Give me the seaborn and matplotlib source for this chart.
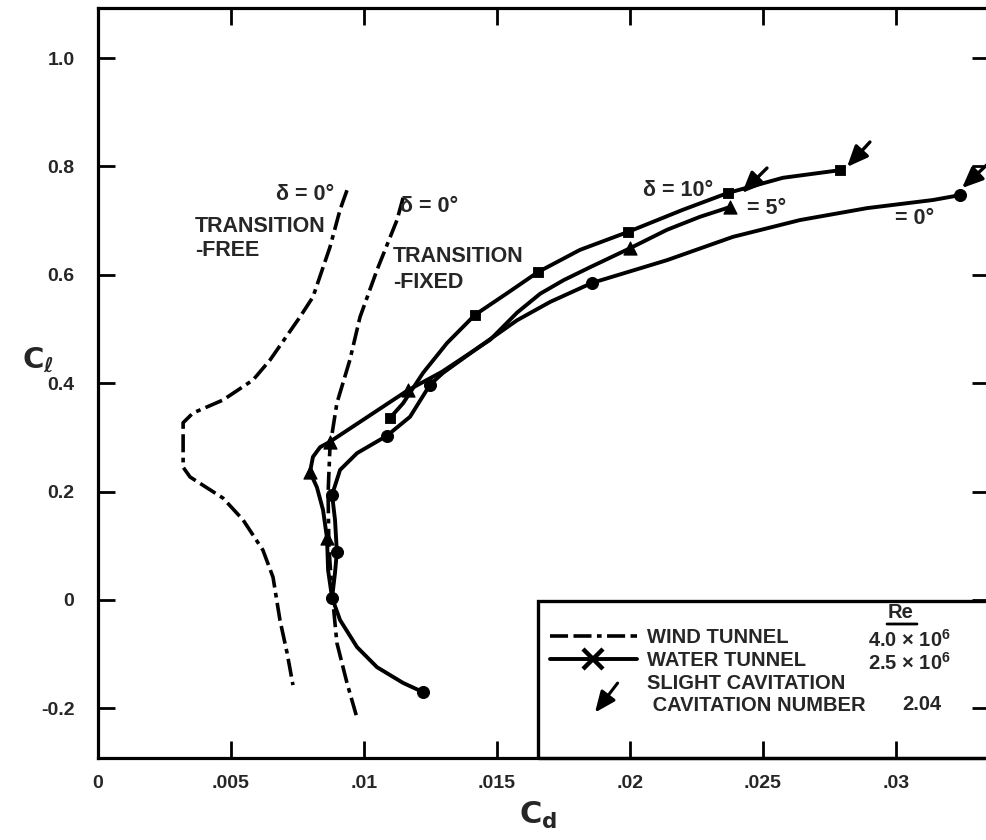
import numpy as np
import pandas as pd
import matplotlib
matplotlib.use("Agg")
import matplotlib.pyplot as plt
import seaborn as sns
from matplotlib.lines import Line2D
from matplotlib.patches import FancyArrowPatch, Rectangle
from matplotlib.legend_handler import HandlerPatch

# ===================== data =====================
# wind tunnel, delta = 0, transition free
free_cd = [.00936, .00910, .00872, .00808, .00759, .00647, .00583, .00470, .00357, .00320,
           .00320, .00346, .00470, .00545, .00620, .00658, .00684, .00711, .00733]
free_cl = [.756, .720, .651, .559, .522, .443, .406, .369, .345, .327,
           .245, .227, .188, .148, .092, .042, -.037, -.098, -.157]

# wind tunnel, delta = 0, transition fixed
fixed_cd = [.01147, .01124, .01049, .00985, .00947, .00898, .00872, .00865, .00868,
            .00880, .00898, .00936, .00974]
fixed_cl = [.742, .701, .609, .522, .443, .363, .282, .197, .098, .013, -.079, -.153, -.218]

# water tunnel faired curves
w0_cd = [.01222, .01147, .01049, .00974, .00910, .00880, .00891, .00898, .00891, .00880,
         .00910, .00974, .01086, .01173, .01248, .01297, .01436, .01575, .01700, .01857,
         .02139, .02387, .02639, .02891, .03139, .03241]
w0_cl = [-.170, -.153, -.124, -.087, -.037, .004, .050, .089, .148, .194,
         .240, .271, .303, .338, .397, .419, .468, .516, .550, .585,
         .627, .670, .701, .723, .738, .747]

w5_cd = [.00880, .00865, .00861, .00846, .00823, .00797, .00808, .00835, .00872, .01165,
         .01293, .01474, .01575, .01662, .01750, .01850, .02000, .02139, .02263, .02376]
w5_cl = [.004, .055, .114, .166, .208, .236, .264, .282, .292, .387,
         .421, .480, .530, .565, .590, .614, .649, .683, .707, .725]

w10_cd = [.01098, .01147, .01222, .01312, .01417, .01538, .01654, .01812, .01992,
          .02199, .02368, .02575, .02789]
w10_cl = [.336, .363, .419, .474, .526, .566, .605, .646, .679, .720, .751, .779, .793]

# measured points (water tunnel)
p0_cd = [.01222, .00880, .00898, .00880, .01086, .01248, .01857, .03241]
p0_cl = [-.170, .004, .089, .194, .303, .397, .585, .747]
p5_cd = [.00861, .00797, .00872, .01165, .02000, .02376]
p5_cl = [.114, .236, .292, .387, .649, .725]
p10_cd = [.01098, .01417, .01654, .01992, .02368, .02789]
p10_cl = [.336, .526, .605, .679, .751, .793]

# slight cavitation arrows (head / tail)
cav_cd = [.02816, .02421, .03248]
cav_cl = [.799, .751, .760]
cav_tail_cd = [.02902, .02515, .03342]
cav_tail_cl = [.845, .797, .803]

x_ticks = [0, .005, .01, .015, .02, .025, .03]
x_labels = ["0", ".005", ".01", ".015", ".02", ".025", ".03"]
y_ticks = [-0.2, 0, 0.2, 0.4, 0.6, 0.8, 1.0]
y_labels = ["-0.2", "0", "0.2", "0.4", "0.6", "0.8", "1.0"]

# ===================== style =====================
sns.set_style("ticks")
plt.rcParams["font.family"] = ["Liberation Sans", "DejaVu Sans"]
plt.rcParams["font.weight"] = "bold"
plt.rcParams["mathtext.fontset"] = "dejavusans"

fig = plt.figure(figsize=(9.87, 8.4), dpi=100)
ax = fig.add_axes([98 / 987, 1 - 758 / 840, 891 / 987, 750 / 840])

DASH = (0, (5, 1.5, 5, 1.5, 1.3, 1.5))
LW = 2.8

sns.lineplot(x=free_cd, y=free_cl, sort=False, estimator=None, color="k", lw=2.6,
             linestyle=DASH, ax=ax)
sns.lineplot(x=fixed_cd, y=fixed_cl, sort=False, estimator=None, color="k", lw=2.6,
             linestyle=DASH, ax=ax)
for cd, cl in [(w0_cd, w0_cl), (w5_cd, w5_cl), (w10_cd, w10_cl)]:
    sns.lineplot(x=cd, y=cl, sort=False, estimator=None, color="k", lw=LW, ax=ax)

sns.scatterplot(x=p0_cd, y=p0_cl, marker="o", s=75, color="k", edgecolor="k", zorder=5, ax=ax)
sns.scatterplot(x=p5_cd, y=p5_cl, marker="^", s=90, color="k", edgecolor="k", zorder=5, ax=ax)
sns.scatterplot(x=p10_cd, y=p10_cl, marker="s", s=60, color="k", edgecolor="k", zorder=5, ax=ax)

for hx, hy, tx, ty in zip(cav_cd, cav_cl, cav_tail_cd, cav_tail_cl):
    ax.annotate("", xy=(hx, hy), xytext=(tx, ty), annotation_clip=False,
                arrowprops=dict(arrowstyle="-|>,head_length=0.7,head_width=0.3",
                                color="k", lw=2.4, shrinkA=0, shrinkB=0, mutation_scale=18))

# ===================== axes =====================
ax.set_xlim(0, 891 / 26600)
ax.set_ylim((600 - 758) / 542, (600 - 8) / 542)
ax.set_xticks(x_ticks)
ax.set_xticklabels(x_labels)
ax.set_yticks(y_ticks)
ax.set_yticklabels(y_labels)
ax.tick_params(direction="in", length=12, width=2, top=True, right=True,
               labelsize=14, color="k")
ax.tick_params(axis="x", pad=12)
ax.tick_params(axis="y", pad=17)
for s in ax.spines.values():
    s.set_linewidth(2.3)
    s.set_color("k")

ax.set_xlabel(r"$\mathrm{C}_\mathrm{d}$", fontsize=22, fontweight="normal")
ax.xaxis.set_label_coords((538 - 98) / 891, (758 - 800) / 750)
ax.set_ylabel(r"$\mathrm{C}_\ell$", fontsize=21, fontweight="normal", rotation=0,
              va="center", ha="center")
ax.yaxis.set_label_coords((38 - 98) / 891, (758 - 360) / 750)

# ===================== annotations =====================
def fx(px):
    return (px - 98) / 891

def fy(py):
    return (758 - py) / 750

tk = dict(transform=ax.transAxes, fontsize=15.5, fontweight="bold", va="center")
ax.text(fx(276), fy(195), "δ = 0°", ha="left", **tk)
ax.text(fx(195), fy(226), "TRANSITION", ha="left", **tk)
ax.text(fx(195), fy(251), "-FREE", ha="left", **tk)
ax.text(fx(400), fy(206), "δ = 0°", ha="left", **tk)
ax.text(fx(393), fy(256), "TRANSITION", ha="left", **tk)
ax.text(fx(393), fy(283), "-FIXED", ha="left", **tk)
ax.text(fx(643), fy(190), "δ = 10°", ha="left", **tk)
ax.text(fx(747), fy(208), "= 5°", ha="left", **tk)
ax.text(fx(895), fy(219), "= 0°", ha="left", **tk)

# ===================== legend =====================
ax.add_patch(Rectangle((fx(538), 0), 0.6, fy(601), transform=ax.transAxes, fill=False,
                       lw=2.4, ec="k", clip_on=False, zorder=6))


def arrow_patch(legend, orig_handle, xdescent, ydescent, width, height, fontsize):
    return FancyArrowPatch((width * 0.8, height * 1.5), (width * 0.5, -height * 0.9),
                           arrowstyle="-|>,head_length=0.7,head_width=0.3",
                           mutation_scale=18, lw=2.2, color="k")


h_wind = Line2D([], [], color="k", lw=2.6, linestyle=DASH)
h_water = Line2D([], [], color="k", lw=LW, marker="x", markersize=15, markeredgewidth=3.2)
h_cav = FancyArrowPatch((0, 0), (1, 1), color="k", lw=2.2)
ax.legend(handles=[h_wind, h_water, h_cav],
          labels=["WIND TUNNEL", "WATER TUNNEL",
                  "SLIGHT CAVITATION\n CAVITATION NUMBER"],
          loc="upper left", bbox_to_anchor=(fx(550), fy(628)), frameon=False,
          handlelength=4.3, handletextpad=0.5, labelspacing=0.2, borderpad=0,
          borderaxespad=0, numpoints=1, prop=dict(size=14.5, weight="bold"),
          handler_map={FancyArrowPatch: HandlerPatch(patch_func=arrow_patch)})

rk = dict(transform=ax.transAxes, fontsize=14.5, fontweight="bold", va="center", ha="left")
ax.text(fx(888), fy(613), "Re", **rk)
ax.annotate("", xy=(fx(887), fy(624)), xytext=(fx(917), fy(624)), xycoords="axes fraction",
            arrowprops=dict(arrowstyle="-", lw=2, color="k", shrinkA=0, shrinkB=0))
ax.text(fx(868), fy(640), r"4.0 × 10$^{\mathregular{6}}$", **rk)
ax.text(fx(868), fy(663), r"2.5 × 10$^{\mathregular{6}}$", **rk)
ax.text(fx(902), fy(704), "2.04", **rk)

fig.savefig("out.png", dpi=100)
